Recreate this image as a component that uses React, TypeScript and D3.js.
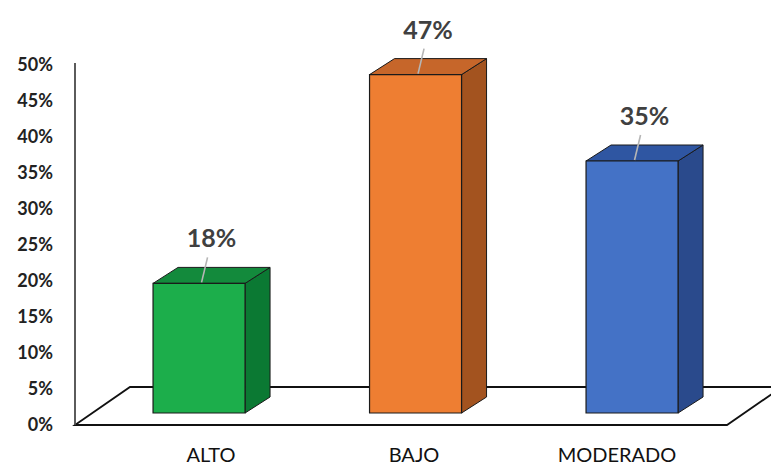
import * as d3 from "d3";

const categories = ["ALTO", "BAJO", "MODERADO"];
const values = [0.18, 0.47, 0.35];
const yTicks = [0, 0.05, 0.1, 0.15, 0.2, 0.25, 0.3, 0.35, 0.4, 0.45, 0.5];

// front, top, side shades per bar
const fronts = ["#1cae4b", "#ee7e32", "#4472c6"];
const tops = ["#138a3c", "#c6662a", "#2f56a2"];
const sides = ["#0b7933", "#a3531f", "#2a4a8c"];

const W = 771;
const H = 465;
const depthX = 25;
const depthY = -16;

export default function App() {
  // axis labels sit on the floor's front edge, bars a bit further back
  const yAxis = d3.scaleLinear().domain([0, 0.5]).range([425, 65]);
  const yBar = d3.scaleLinear().domain([0, 0.5]).range([413, 53]);

  const x = d3
    .scaleBand()
    .domain(categories)
    .range([90.8, 740.3])
    .paddingInner(0.575)
    .paddingOuter(0.2875);

  const xLabel = d3.scalePoint().domain(categories).range([211, 617]);

  const fmt = d3.format(".0%");

  // floor parallelogram
  const floor = [
    [75, 425],
    [130, 387],
    [782, 387],
    [727, 425],
  ];
  const floorPath = d3.line()(floor as [number, number][]) + "Z";

  const font = "Lato, 'Open Sans', sans-serif";

  return (
    <svg
      width={W}
      height={H}
      style={{ position: "absolute", left: 0, top: 0, background: "#fff" }}
    >
      <path d={floorPath} fill="#fff" stroke="#111" strokeWidth={1.8} />
      <line x1={75} x2={75} y1={63} y2={425} stroke="#4a4a4a" strokeWidth={1.8} />

      {yTicks.map((t) => (
        <text
          key={t}
          x={53}
          y={yAxis(t)}
          dy="0.36em"
          textAnchor="end"
          fontFamily={font}
          fontWeight={700}
          fontSize={18}
          fill="#222"
        >
          {fmt(t)}
        </text>
      ))}

      {categories.map((c, i) => {
        const x0 = x(c)!;
        const x1 = x0 + x.bandwidth();
        const y0 = yBar(0);
        const y1 = yBar(values[i]);
        const front = `M${x0},${y0}L${x1},${y0}L${x1},${y1}L${x0},${y1}Z`;
        const top = `M${x0},${y1}L${x0 + depthX},${y1 + depthY}L${x1 + depthX},${y1 + depthY}L${x1},${y1}Z`;
        const side = `M${x1},${y0}L${x1 + depthX},${y0 + depthY}L${x1 + depthX},${y1 + depthY}L${x1},${y1}Z`;
        const lx = (x0 + x1 + depthX) / 2;
        const baseY = y1 - 36;
        return (
          <g key={c}>
            <path d={side} fill={sides[i]} stroke="#1a1a1a" strokeWidth={1} strokeLinejoin="round" />
            <path d={top} fill={tops[i]} stroke="#1a1a1a" strokeWidth={1} strokeLinejoin="round" />
            <path d={front} fill={fronts[i]} stroke="#1a1a1a" strokeWidth={1.2} />
            <line
              x1={lx - 10}
              y1={y1 - 1}
              x2={lx - 4}
              y2={baseY + 10}
              stroke="#b5b5b5"
              strokeWidth={1.6}
            />
            <text
              x={lx}
              y={baseY}
              textAnchor="middle"
              fontFamily={font}
              fontWeight={700}
              fontSize={25}
              fill="#404040"
            >
              {fmt(values[i])}
            </text>
          </g>
        );
      })}

      {categories.map((c) => (
        <text
          key={c}
          x={xLabel(c)}
          y={462}
          textAnchor="middle"
          fontFamily={font}
          fontSize={20}
          fill="#111"
        >
          {c}
        </text>
      ))}
    </svg>
  );
}
